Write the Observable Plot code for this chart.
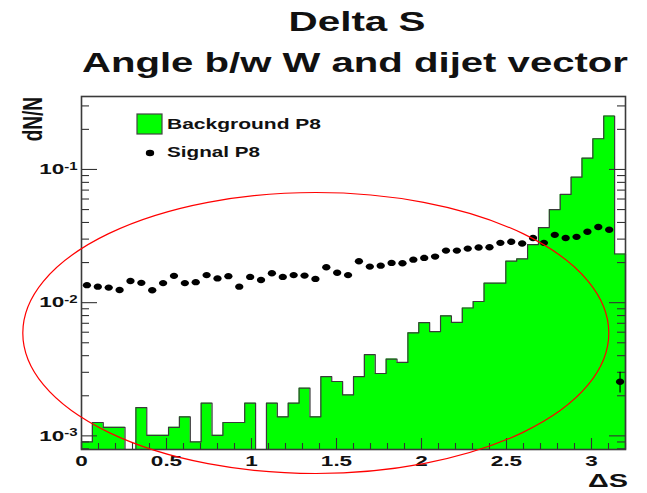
<!DOCTYPE html>
<html><head><meta charset="utf-8">
<script src="https://cdn.jsdelivr.net/npm/d3@7"></script>
<script src="https://cdn.jsdelivr.net/npm/@observablehq/plot@0.6"></script>
<style>
html,body{margin:0;padding:0;background:#fff;}
#wrap{position:relative;width:647px;height:493px;overflow:hidden;}
#wrap svg{position:absolute;left:0;top:0;display:block;}
</style></head>
<body><div id="wrap"></div>
<script>
// ---- data ----
const titleLine1 = "Delta S";
const titleLine2 = "Angle b/w W and dijet vector";
const xTitle = "ΔS";
const yTitle = "dN/N";
const legendLabels = ["Background P8", "Signal P8"];
const xRange = [0, 3.2];
const nBins = 50;
const yRange = [7.9e-4, 0.353];
const xMajorTicks = [0, 0.5, 1, 1.5, 2, 2.5, 3];
const xMinorTicks = [0.1,0.2,0.3,0.4,0.6,0.7,0.8,0.9,1.1,1.2,1.3,1.4,1.6,1.7,1.8,1.9,2.1,2.2,2.3,2.4,2.6,2.7,2.8,2.9,3.1,3.2];
const yMajorTicks = [1e-3, 1e-2, 1e-1];
const yTickLabels = ["10^-3", "10^-2", "10^-1"];
const yMinorTicks = [8e-4,9e-4,2e-3,3e-3,4e-3,5e-3,6e-3,7e-3,8e-3,9e-3,2e-2,3e-2,4e-2,5e-2,6e-2,7e-2,8e-2,9e-2,0.2,0.3];

// Background P8 (histogram, per bin)
const backgroundP8 = [
  9.0e-4, 1.26e-3, 1.16e-3, 1.16e-3, 0, 1.63e-3, 1.01e-3, 1.01e-3, 1.16e-3, 1.39e-3,
  9.0e-4, 1.76e-3, 1.01e-3, 1.26e-3, 1.26e-3, 1.76e-3, 0, 1.76e-3, 1.39e-3, 1.76e-3,
  2.28e-3, 1.39e-3, 2.78e-3, 2.56e-3, 2.03e-3, 2.78e-3, 4.07e-3, 2.94e-3, 3.77e-3, 3.56e-3,
  5.94e-3, 7.08e-3, 6.07e-3, 7.97e-3, 7.11e-3, 9.12e-3, 1.02e-2, 1.40e-2, 1.40e-2, 2.05e-2,
  2.13e-2, 2.73e-2, 3.66e-2, 5.00e-2, 6.49e-2, 8.75e-2, 0.1216, 0.170, 0.252, 0.0232
];
// Signal P8 (points, per bin)
const signalP8 = [
  0.01354, 0.01319, 0.01297, 0.01246, 0.01456, 0.01409, 0.01240, 0.01402, 0.01590, 0.01402,
  0.01426, 0.01610, 0.01521, 0.01582, 0.01319, 0.01561, 0.01481, 0.01661, 0.01561, 0.01610,
  0.01596, 0.01508, 0.01843, 0.01675, 0.01610, 0.02044, 0.01865, 0.01897, 0.01988, 0.01974,
  0.02104, 0.02168, 0.02218, 0.02460, 0.02460, 0.02547, 0.02592, 0.02605, 0.02812, 0.02865,
  0.02778, 0.03055, 0.02812, 0.03228, 0.03055, 0.03119, 0.03405, 0.03702, 0.03526, 0.002547
];
const signalErr = [
  0,0,0,0,0,0,0,0,0,0, 0,0,0,0,0,0,0,0,0,0, 0,0,0,0,0,0,0,0,0,0,
  0,0,0,0,0,0,0,0,0,0, 0,0,0,0,0,0,0,0,0,0.00045
];

// ---- derived tables ----
const bw = (xRange[1] - xRange[0]) / nBins;
const yFloor = yRange[0];
const bins = backgroundP8.map((v, i) => ({x1: xRange[0] + i * bw, x2: xRange[0] + (i + 1) * bw, v}));
const outline = [{x: xRange[0], y: yFloor}].concat(
  bins.flatMap(d => [{x: d.x1, y: d.v > 0 ? d.v : yFloor}, {x: d.x2, y: d.v > 0 ? d.v : yFloor}]),
  [{x: xRange[1], y: yFloor}]
);
const sig = signalP8.map((v, i) => ({x: xRange[0] + (i + 0.5) * bw, v, e: signalErr[i]}));

const K = 0.5523;
const ellipseSymbol = {
  draw(ctx, size) {
    const r = Math.sqrt(size / Math.PI), rx = r * 1.3, ry = r;
    ctx.moveTo(rx, 0);
    ctx.bezierCurveTo(rx, ry * K, rx * K, ry, 0, ry);
    ctx.bezierCurveTo(-rx * K, ry, -rx, ry * K, -rx, 0);
    ctx.bezierCurveTo(-rx, -ry * K, -rx * K, -ry, 0, -ry);
    ctx.bezierCurveTo(rx * K, -ry, rx, -ry * K, rx, 0);
    ctx.closePath();
  }
};

const W = 647, H = 493, mT = 96, mB = 44, mL = 81, mR = 22;
const fW = W - mL - mR, fH = H - mT - mB;
const font = "'Liberation Sans', Arial, Helvetica, sans-serif";
const tickColor = "#333";

const chart = Plot.plot({
  width: W, height: H,
  marginTop: mT, marginBottom: mB, marginLeft: mL, marginRight: mR,
  x: {domain: xRange},
  y: {type: "log", domain: yRange},
  style: {fontFamily: font, background: "white", color: "black", overflow: "visible"},
  marks: [
    Plot.area(outline, {x1: "x", y1: () => yFloor, y2: "y", fill: "#00ff00"}),
    Plot.line(outline, {x: "x", y: "y", stroke: "#3a3a3a", strokeWidth: 1.2}),
    Plot.tickX(xMajorTicks, {x: d => d, insetTop: fH - 11, stroke: tickColor, strokeWidth: 1.1}),
    Plot.tickX(xMinorTicks, {x: d => d, insetTop: fH - 6, stroke: tickColor, strokeWidth: 1.1}),
    Plot.tickY(yMajorTicks, {y: d => d, insetRight: fW - 16, stroke: tickColor, strokeWidth: 1.1}),
    Plot.tickY(yMinorTicks, {y: d => d, insetRight: fW - 8, stroke: tickColor, strokeWidth: 1.1}),
    Plot.tickY(yMajorTicks, {y: d => d, insetLeft: fW - 16, stroke: tickColor, strokeWidth: 1.1}),
    Plot.tickY(yMinorTicks, {y: d => d, insetLeft: fW - 8, stroke: tickColor, strokeWidth: 1.1}),
    Plot.ruleX(sig.filter(d => d.e > 0), {x: "x", y1: d => d.v - d.e, y2: d => d.v + d.e, stroke: "black", strokeWidth: 1.2}),
    Plot.dot(sig, {x: "x", y: "v", r: 3.2, symbol: ellipseSymbol, fill: "black", stroke: "none"}),
    Plot.frame({stroke: "#3a3a3a", strokeWidth: 1.6}),
    Plot.axisX({ticks: xMajorTicks, tickSize: 0, tickPadding: 6, label: null, tickFormat: d => String(d),
      fontSize: 15, fontWeight: "bold", fill: "#111"}),
    Plot.axisY({ticks: yMajorTicks, tickSize: 0, tickPadding: 4, label: null,
      tickFormat: d => yTickLabels[yMajorTicks.indexOf(d)], fontSize: 15, fontWeight: "bold", fill: "#111"})
  ]
});

const wrap = document.getElementById("wrap");
wrap.appendChild(chart);

// stretch tick labels horizontally like the reference, add superscripts
d3.select(chart).selectAll('g[aria-label="x-axis tick label"] text').each(function() {
  const t = this.getAttribute("transform") || "";
  this.setAttribute("transform", t + " scale(1.5,1)");
});
d3.select(chart).selectAll('g[aria-label="y-axis tick label"] text').each(function() {
  const s = this.textContent;
  const parts = s.split("^");
  this.textContent = "";
  d3.select(this).append("tspan").text(parts[0]);
  d3.select(this).append("tspan").attr("dy", "-0.42em").attr("font-size", "10px").text(parts[1]);
  const t = this.getAttribute("transform") || "";
  this.setAttribute("transform", t + " scale(1.5,1)");
});

// overlay: titles, axis titles, legend, red annotation ellipse
const ov = d3.select(wrap).append("svg").attr("width", W).attr("height", H)
  .style("pointer-events", "none").attr("font-family", font).attr("font-weight", "bold");
ov.append("text").attr("x", 357).attr("y", 31).attr("text-anchor", "middle").attr("font-size", 27)
  .attr("textLength", 137).attr("lengthAdjust", "spacingAndGlyphs").attr("fill", "#111").text(titleLine1);
ov.append("text").attr("x", 355).attr("y", 72).attr("text-anchor", "middle").attr("font-size", 27)
  .attr("textLength", 546).attr("lengthAdjust", "spacingAndGlyphs").attr("fill", "#111").text(titleLine2);
ov.append("text").attr("transform", "translate(42,97) rotate(-90) scale(1,1.5)").attr("text-anchor", "end")
  .attr("font-size", 19).attr("fill", "#111").text(yTitle);
ov.append("text").attr("x", 628).attr("y", 487).attr("text-anchor", "end").attr("font-size", 19)
  .attr("textLength", 40).attr("lengthAdjust", "spacingAndGlyphs").attr("fill", "#111").text(xTitle);
// legend
ov.append("rect").attr("x", 137).attr("y", 114).attr("width", 25).attr("height", 20)
  .attr("fill", "#00ff00").attr("stroke", "#444").attr("stroke-width", 1.2);
ov.append("text").attr("x", 167).attr("y", 129).attr("font-size", 14)
  .attr("textLength", 154).attr("lengthAdjust", "spacingAndGlyphs").attr("fill", "#111").text(legendLabels[0]);
ov.append("ellipse").attr("cx", 150).attr("cy", 153).attr("rx", 4.2).attr("ry", 3.2).attr("fill", "black");
ov.append("text").attr("x", 167).attr("y", 157).attr("font-size", 14)
  .attr("textLength", 93).attr("lengthAdjust", "spacingAndGlyphs").attr("fill", "#111").text(legendLabels[1]);
// hand-drawn annotation
ov.append("ellipse").attr("cx", 315.8).attr("cy", 333).attr("rx", 293).attr("ry", 140.5)
  .attr("fill", "none").attr("stroke", "#ff0000").attr("stroke-width", 1.2);
</script>
</body></html>
